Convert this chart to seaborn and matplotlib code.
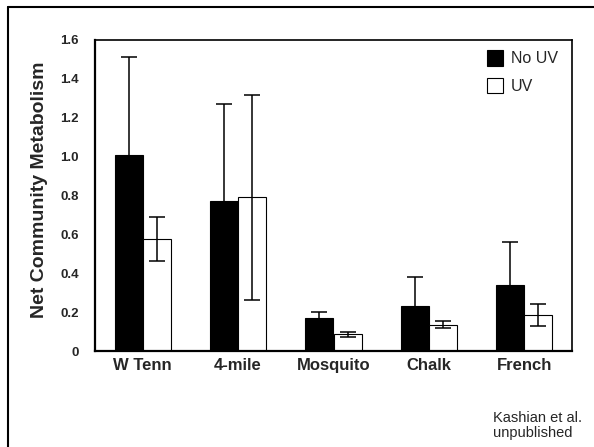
import numpy as np
import pandas as pd
import matplotlib
matplotlib.use("Agg")
import matplotlib.pyplot as plt
from matplotlib.lines import Line2D
import seaborn as sns

# ---- data ----
sites = ["W Tenn", "4-mile", "Mosquito", "Chalk", "French"]
treatments = ["No UV", "UV"]
no_uv = [1.01, 0.77, 0.17, 0.23, 0.34]
no_uv_err = [0.50, 0.50, 0.03, 0.15, 0.22]
uv = [0.575, 0.79, 0.087, 0.135, 0.185]
uv_err = [0.113, 0.529, 0.013, 0.018, 0.058]
y_ticks = [0, 0.2, 0.4, 0.6, 0.8, 1.0, 1.2, 1.4, 1.6]
y_tick_labels = ["0", "0.2", "0.4", "0.6", "0.8", "1.0", "1.2", "1.4", "1.6"]
y_label = "Net Community Metabolism"
note = "Kashian et al.\nunpublished"

df = pd.DataFrame({
    "site": sites * 2,
    "treatment": [treatments[0]] * len(sites) + [treatments[1]] * len(sites),
    "value": no_uv + uv,
})
errs = [no_uv_err, uv_err]

sns.set_style("white")
plt.rcParams["font.family"] = ["Liberation Sans", "DejaVu Sans"]

W, H = 594, 447
fig = plt.figure(figsize=(W / 100, H / 100), dpi=100)
ax = fig.add_axes([95 / W, 1 - 351 / H, 477 / W, 311 / H])

sns.barplot(data=df, x="site", y="value", hue="treatment",
            palette=["black", "white"], edgecolor="black", linewidth=0.8,
            width=0.59, gap=0, errorbar=None, ax=ax, zorder=2)

for cont, e in zip(ax.containers, errs):
    xs = [b.get_x() + b.get_width() / 2 for b in cont]
    ys = [b.get_height() for b in cont]
    ax.errorbar(xs, ys, yerr=e, fmt="none", ecolor="black",
                elinewidth=1.1, capsize=6, capthick=1.1, zorder=3)

ax.set_ylim(0, 1.6)
ax.set_xlim(-0.5, len(sites) - 0.5)
ax.set_yticks(y_ticks)
ax.set_yticklabels(y_tick_labels, fontsize=9.5, fontweight="bold")
ax.tick_params(axis="y", length=0, pad=11.5)
ax.tick_params(axis="x", length=0, pad=5)
for lab in ax.get_xticklabels():
    lab.set_fontsize(12)
    lab.set_fontweight("bold")
ax.set_xlabel("")
ax.set_ylabel(y_label, fontsize=14, fontweight="bold")
ax.yaxis.set_label_coords(-0.098, 0.518)

for s in ax.spines.values():
    s.set_visible(True)
    s.set_color("black")
    s.set_linewidth(1.2)
ax.spines["bottom"].set_linewidth(1.6)
ax.spines["left"].set_linewidth(1.6)

handles, labels = ax.get_legend_handles_labels()
if ax.get_legend() is not None:
    ax.get_legend().remove()
for h in handles:
    h.set_edgecolor("black")
    h.set_linewidth(0.8)
ax.legend(handles, labels, loc="upper left",
          bbox_to_anchor=(487 / W, 1 - 50 / H), bbox_transform=fig.transFigure,
          frameon=False, handlelength=1.0, handleheight=1.15, handletextpad=0.5,
          labelspacing=0.7, borderpad=0, borderaxespad=0, fontsize=11.5)

fig.text(493 / W, 1 - 411 / H, note, ha="left", va="top", fontsize=10.5,
         linespacing=1.1)

fig.add_artist(Line2D([8 / W, 1], [1 - 7 / H, 1 - 7 / H], color="black",
                      linewidth=1.5, transform=fig.transFigure))
fig.add_artist(Line2D([8 / W, 8 / W], [0, 1 - 7 / H], color="black",
                      linewidth=1.5, transform=fig.transFigure))

fig.savefig("out.png", dpi=100, facecolor="white")
